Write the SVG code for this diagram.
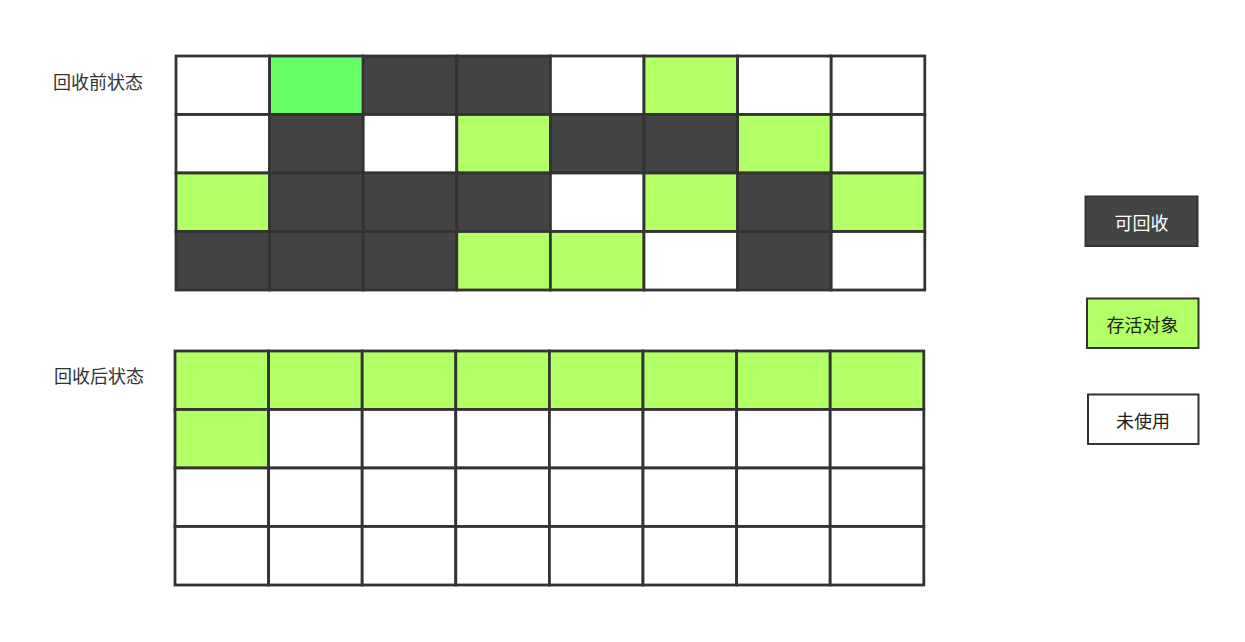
<svg xmlns="http://www.w3.org/2000/svg" width="1245" height="642" viewBox="0 0 1245 642">
<style>
.c{stroke:#333333;stroke-width:2.8}
.w{fill:#ffffff}
.d{fill:#444444}
.l{fill:#b3ff66}
.g{fill:#66ff66}
.t{font-family:"Microsoft YaHei","Noto Sans CJK SC",sans-serif;font-size:18px;dominant-baseline:central}
.lab{fill:#333333}
.lg{stroke:#333333;stroke-width:2}
</style>
<rect width="1245" height="642" fill="#ffffff"/>
<g id="label-before"><text class="t lab" x="53" y="80.5">回收前状态</text></g>
<g id="label-after"><text class="t lab" x="54" y="374.5">回收后状态</text></g>
<g id="grid-before">
<rect class="c w" x="176" y="56" width="93.6" height="58.5"/>
<rect class="c g" x="269.6" y="56" width="93.6" height="58.5"/>
<rect class="c d" x="363.2" y="56" width="93.6" height="58.5"/>
<rect class="c d" x="456.8" y="56" width="93.6" height="58.5"/>
<rect class="c w" x="550.4" y="56" width="93.6" height="58.5"/>
<rect class="c l" x="644" y="56" width="93.6" height="58.5"/>
<rect class="c w" x="737.6" y="56" width="93.6" height="58.5"/>
<rect class="c w" x="831.2" y="56" width="93.6" height="58.5"/>
<rect class="c w" x="176" y="114.5" width="93.6" height="58.5"/>
<rect class="c d" x="269.6" y="114.5" width="93.6" height="58.5"/>
<rect class="c w" x="363.2" y="114.5" width="93.6" height="58.5"/>
<rect class="c l" x="456.8" y="114.5" width="93.6" height="58.5"/>
<rect class="c d" x="550.4" y="114.5" width="93.6" height="58.5"/>
<rect class="c d" x="644" y="114.5" width="93.6" height="58.5"/>
<rect class="c l" x="737.6" y="114.5" width="93.6" height="58.5"/>
<rect class="c w" x="831.2" y="114.5" width="93.6" height="58.5"/>
<rect class="c l" x="176" y="173" width="93.6" height="58.5"/>
<rect class="c d" x="269.6" y="173" width="93.6" height="58.5"/>
<rect class="c d" x="363.2" y="173" width="93.6" height="58.5"/>
<rect class="c d" x="456.8" y="173" width="93.6" height="58.5"/>
<rect class="c w" x="550.4" y="173" width="93.6" height="58.5"/>
<rect class="c l" x="644" y="173" width="93.6" height="58.5"/>
<rect class="c d" x="737.6" y="173" width="93.6" height="58.5"/>
<rect class="c l" x="831.2" y="173" width="93.6" height="58.5"/>
<rect class="c d" x="176" y="231.5" width="93.6" height="58.5"/>
<rect class="c d" x="269.6" y="231.5" width="93.6" height="58.5"/>
<rect class="c d" x="363.2" y="231.5" width="93.6" height="58.5"/>
<rect class="c l" x="456.8" y="231.5" width="93.6" height="58.5"/>
<rect class="c l" x="550.4" y="231.5" width="93.6" height="58.5"/>
<rect class="c w" x="644" y="231.5" width="93.6" height="58.5"/>
<rect class="c d" x="737.6" y="231.5" width="93.6" height="58.5"/>
<rect class="c w" x="831.2" y="231.5" width="93.6" height="58.5"/>
</g>
<g id="grid-after">
<rect class="c l" x="175" y="351" width="93.6" height="58.5"/>
<rect class="c l" x="268.6" y="351" width="93.6" height="58.5"/>
<rect class="c l" x="362.2" y="351" width="93.6" height="58.5"/>
<rect class="c l" x="455.8" y="351" width="93.6" height="58.5"/>
<rect class="c l" x="549.4" y="351" width="93.6" height="58.5"/>
<rect class="c l" x="643" y="351" width="93.6" height="58.5"/>
<rect class="c l" x="736.6" y="351" width="93.6" height="58.5"/>
<rect class="c l" x="830.2" y="351" width="93.6" height="58.5"/>
<rect class="c l" x="175" y="409.5" width="93.6" height="58.5"/>
<rect class="c w" x="268.6" y="409.5" width="93.6" height="58.5"/>
<rect class="c w" x="362.2" y="409.5" width="93.6" height="58.5"/>
<rect class="c w" x="455.8" y="409.5" width="93.6" height="58.5"/>
<rect class="c w" x="549.4" y="409.5" width="93.6" height="58.5"/>
<rect class="c w" x="643" y="409.5" width="93.6" height="58.5"/>
<rect class="c w" x="736.6" y="409.5" width="93.6" height="58.5"/>
<rect class="c w" x="830.2" y="409.5" width="93.6" height="58.5"/>
<rect class="c w" x="175" y="468" width="93.6" height="58.5"/>
<rect class="c w" x="268.6" y="468" width="93.6" height="58.5"/>
<rect class="c w" x="362.2" y="468" width="93.6" height="58.5"/>
<rect class="c w" x="455.8" y="468" width="93.6" height="58.5"/>
<rect class="c w" x="549.4" y="468" width="93.6" height="58.5"/>
<rect class="c w" x="643" y="468" width="93.6" height="58.5"/>
<rect class="c w" x="736.6" y="468" width="93.6" height="58.5"/>
<rect class="c w" x="830.2" y="468" width="93.6" height="58.5"/>
<rect class="c w" x="175" y="526.5" width="93.6" height="58.5"/>
<rect class="c w" x="268.6" y="526.5" width="93.6" height="58.5"/>
<rect class="c w" x="362.2" y="526.5" width="93.6" height="58.5"/>
<rect class="c w" x="455.8" y="526.5" width="93.6" height="58.5"/>
<rect class="c w" x="549.4" y="526.5" width="93.6" height="58.5"/>
<rect class="c w" x="643" y="526.5" width="93.6" height="58.5"/>
<rect class="c w" x="736.6" y="526.5" width="93.6" height="58.5"/>
<rect class="c w" x="830.2" y="526.5" width="93.6" height="58.5"/>
</g>
<g id="legend-reclaimable">
<rect class="lg d" x="1085.5" y="196.5" width="112" height="49.5"/>
<text class="t" x="1141.5" y="221.5" text-anchor="middle" fill="#ffffff">可回收</text>
</g>
<g id="legend-alive">
<rect class="lg l" x="1087" y="298.5" width="111.5" height="49.5"/>
<text class="t" x="1142.5" y="323.5" text-anchor="middle" fill="#222222">存活对象</text>
</g>
<g id="legend-unused">
<rect class="lg w" x="1088" y="394.5" width="110.5" height="49.5"/>
<text class="t" x="1143" y="419.5" text-anchor="middle" fill="#222222">未使用</text>
</g>
<g id="connectors"/>
</svg>
